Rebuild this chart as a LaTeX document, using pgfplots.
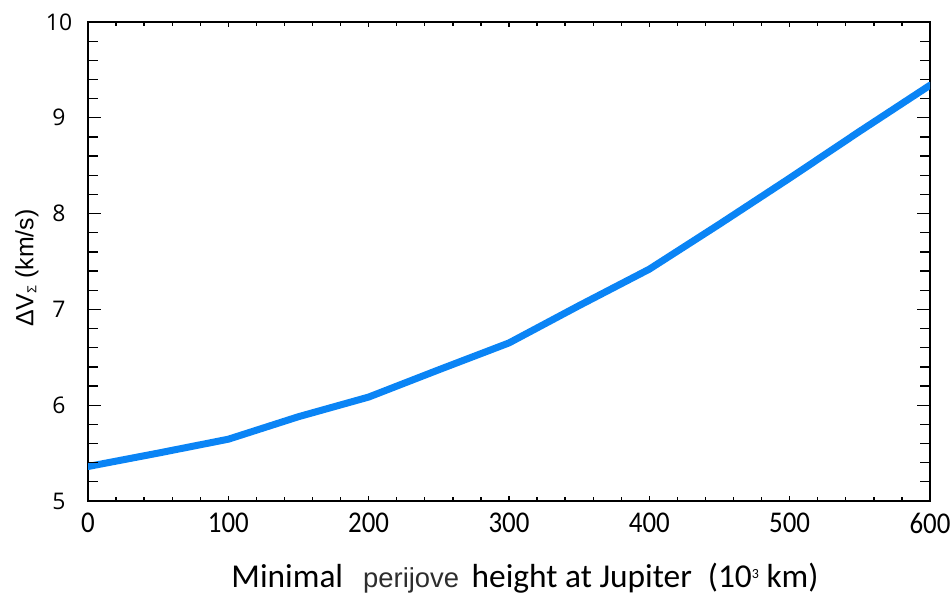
\documentclass[border=0pt]{standalone}
\usepackage{fontspec}
\setmainfont{Carlito}
\newfontfamily\osans{Open Sans}
\newfontfamily\lsans{Liberation Sans}
\usepackage{pgfplots}
\pgfplotsset{compat=1.18}
\definecolor{lineblue}{RGB}{10,132,245}

\begin{document}
\begin{tikzpicture}
\useasboundingbox (0,0) rectangle (952bp,598bp);
% axis 1: box, x ticks, labels
\begin{axis}[
    at={(88bp,97bp)}, anchor=south west,
    scale only axis,
    width=842bp, height=479bp,
    xmin=0, xmax=600, ymin=5, ymax=10,
    xtick={0,100,...,600},
    minor x tick num=4,
    ytick=\empty,
    tick align=inside,
    major tick length=5bp, minor tick length=4bp,
    every tick/.style={black, line width=1.3bp},
    axis line style={line width=1.6bp},
    /pgf/number format/assume math mode=true,
    xticklabel={\scalebox{1}[1.12]{\pgfmathprintnumber{\tick}}},
    xticklabel style={font=\fontsize{27}{30}\selectfont, anchor=center, yshift=-22bp},
    xlabel={\fontsize{33.5}{36}\selectfont Minimal\hspace{20bp}{\lsans\fontsize{27.5}{30}\selectfont\color[RGB]{45,45,45}perijove}\hspace{5bp} height at Jupiter\hspace{16bp}(10{\fontsize{14}{16}\selectfont\raisebox{9bp}{3}} km)},
    xlabel style={at={(axis description cs:0.519,-0.1816)}, anchor=base},
    ylabel={\lsans\fontsize{25}{28}\selectfont ΔV{\fontsize{13}{14}\selectfont\raisebox{-3bp}{Σ}} (km/s)},
    ylabel style={at={(axis description cs:-0.0724,0.486)}, anchor=center, rotate=0},
]
\addplot[color=lineblue, line width=7bp, line cap=round, line join=round] coordinates {
    (0,5.36) (50,5.5) (100,5.645) (150,5.88) (200,6.085) (250,6.37) (300,6.65)
    (350,7.04) (400,7.42) (450,7.89) (500,8.37) (550,8.86) (600,9.34)
};
\end{axis}
% axis 2: y ticks only
\begin{axis}[
    at={(88bp,97bp)}, anchor=south west,
    scale only axis,
    width=842bp, height=479bp,
    xmin=0, xmax=600, ymin=5, ymax=10,
    xtick=\empty,
    ytick={5,6,...,10},
    minor y tick num=4,
    tick align=inside,
    major tick length=13bp, minor tick length=10bp,
    every tick/.style={black, line width=1.3bp},
    axis line style={draw=none},
    /pgf/number format/assume math mode=true,
    yticklabel={\pgfmathprintnumber{\tick}},
    yticklabel style={font=\osans\fontsize{23}{26}\selectfont, anchor=center, xshift=-29bp},
]
\end{axis}
\end{tikzpicture}
\end{document}
